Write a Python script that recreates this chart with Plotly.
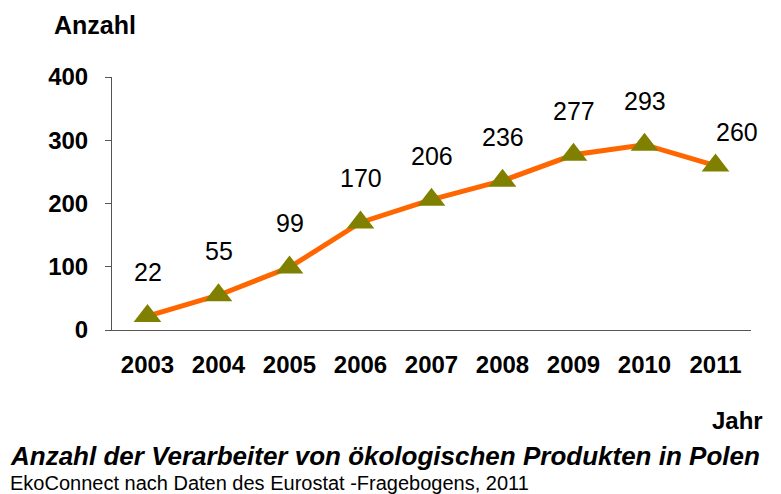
import plotly.graph_objects as go

years = ["2003", "2004", "2005", "2006", "2007", "2008", "2009", "2010", "2011"]
counts = [22, 55, 99, 170, 206, 236, 277, 293, 260]
y_ticks = [0, 100, 200, 300, 400]

FONT = "Liberation Sans, Arial, sans-serif"
W, H = 781, 494
L, R, T, B = 104, 38, 69, 172

fig = go.Figure()
fig.add_trace(go.Scatter(
    x=years, y=counts, mode="lines+markers",
    line=dict(color="#FF6600", width=5),
    marker=dict(symbol="triangle-up", size=24, color="#808000"),
    cliponaxis=False, showlegend=False,
))

for i, v in enumerate(counts):
    last = i == len(counts) - 1
    fig.add_annotation(x=i, y=v, xref="x", yref="y", text=str(v), showarrow=False,
                       xshift=21 if last else 0, yshift=34 if last else 44,
                       font=dict(family=FONT, size=25, color="black"))

fig.update_xaxes(type="category", range=[-0.5, len(years) - 0.5],
                 showline=True, linecolor="#555", linewidth=1,
                 ticks="", showgrid=False, zeroline=False,
                 tickfont=dict(family=FONT, size=24, color="black", weight="bold"),
                 ticklabelstandoff=13)
fig.update_yaxes(range=[0, 400], tickvals=y_ticks, showline=True, linecolor="#555",
                 linewidth=1, ticks="outside", ticklen=6, tickcolor="#555",
                 showgrid=False, zeroline=False,
                 tickfont=dict(family=FONT, size=24, color="black", weight="bold"),
                 ticklabelstandoff=12)

fig.add_annotation(xref="paper", yref="paper", x=-0.094, y=1, yshift=52,
                   xanchor="left", yanchor="middle", text="<b>Anzahl</b>",
                   showarrow=False, font=dict(family=FONT, size=25, color="black"))
fig.add_annotation(xref="paper", yref="paper", x=1.022, y=0, yshift=-90,
                   xanchor="right", yanchor="middle", text="<b>Jahr</b>",
                   showarrow=False, font=dict(family=FONT, size=24, color="black"))
fig.add_annotation(xref="paper", yref="paper", x=-0.163, y=0, yshift=-126,
                   xanchor="left", yanchor="middle",
                   text="<b><i>Anzahl der Verarbeiter von ökologischen Produkten in Polen</i></b>",
                   showarrow=False, font=dict(family=FONT, size=26, color="black"))
fig.add_annotation(xref="paper", yref="paper", x=-0.163, y=0, yshift=-153,
                   xanchor="left", yanchor="middle",
                   text="EkoConnect nach Daten des Eurostat -Fragebogens, 2011",
                   showarrow=False, font=dict(family=FONT, size=20, color="black"))

fig.update_layout(width=W, height=H, margin=dict(l=L, r=R, t=T, b=B),
                  paper_bgcolor="white", plot_bgcolor="white")
fig.write_html("out.html")
